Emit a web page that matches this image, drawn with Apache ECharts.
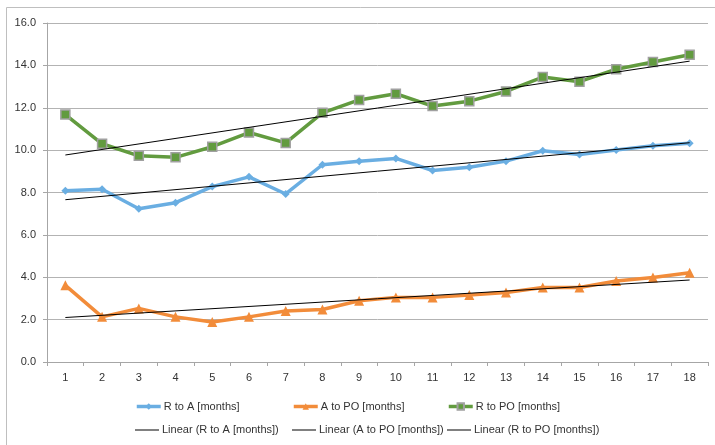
<!DOCTYPE html>
<html>
<head>
<meta charset="utf-8">
<script src="https://cdn.jsdelivr.net/npm/echarts@6/dist/echarts.min.js"></script>
<style>html,body{margin:0;padding:0;background:#fff}#c{width:715px;height:445px}</style>
</head>
<body>
<div id="c"></div>
<script>
const categories = ['1','2','3','4','5','6','7','8','9','10','11','12','13','14','15','16','17','18'];
const rToA = [8.08,8.15,7.23,7.52,8.28,8.74,7.93,9.31,9.48,9.61,9.04,9.19,9.48,9.97,9.79,10.01,10.21,10.32];
const aToPo = [3.62,2.13,2.53,2.13,1.89,2.13,2.41,2.48,2.89,3.05,3.05,3.16,3.28,3.52,3.52,3.82,3.99,4.21];
const rToPo = [11.68,10.3,9.73,9.66,10.16,10.83,10.34,11.76,12.37,12.66,12.08,12.31,12.77,13.45,13.23,13.82,14.16,14.5];
// trendline endpoints (at category 1 and 18)
const trendRToA = [7.66, 10.35];
const trendAToPo = [2.1, 3.87];
const trendRToPo = [9.77, 14.2];
const yTicks = {min: 0, max: 16, interval: 2};

const names = ['R to A [months]','A to PO [months]','R to PO [months]',
  'Linear (R to A [months])','Linear (A to PO [months])','Linear (R to PO [months])'];
const FONT = 'Liberation Sans';
const last = categories.length - 1;
function trend(t){ return [[0, t[0]], [last, t[1]]]; }

const chart = echarts.init(document.getElementById('c'), null, {renderer:'canvas'});
const legendPos = [[135,401],[292,401],[447,401],[135,424.5],[292,424.5],[447,424.5]];
const legends = names.map((n,i)=>{
  const trendItem = i >= 3;
  return {
    data: trendItem ? [{name:n, icon:'rect', itemStyle:{color:'#000'}}] : [{name:n, lineStyle:{width:3.5}}],
    left: legendPos[i][0], top: legendPos[i][1], padding:0,
    itemWidth:24, itemHeight: trendItem ? 1 : 8, itemGap:0, selectedMode:false,
    textStyle:{fontFamily:FONT, fontSize:11, color:'#333', padding:[0,0,0,-2]}
  };
});
chart.setOption({
  animation:false,
  backgroundColor:'#fff',
  graphic:[
    {type:'line', shape:{x1:6.5,y1:7.5,x2:6.5,y2:445}, style:{stroke:'#bfbfbf',lineWidth:1}},
    {type:'line', shape:{x1:6.5,y1:7.5,x2:715,y2:7.5}, style:{stroke:'#bfbfbf',lineWidth:1}}
  ],
  legend: legends,
  grid:{left:47, right:7, top:23, bottom:83, containLabel:false},
  xAxis:{
    type:'category', data:categories, boundaryGap:true,
    axisLine:{lineStyle:{color:'#a6a6a6', width:1}},
    axisTick:{show:true, length:4, interval:0, lineStyle:{color:'#a6a6a6'}},
    axisLabel:{fontFamily:FONT, fontSize:11, color:'#333', margin:10, interval:0},
    splitLine:{show:false}
  },
  yAxis:{
    type:'value', min:yTicks.min, max:yTicks.max, interval:yTicks.interval,
    axisLine:{show:true, lineStyle:{color:'#a6a6a6', width:1}},
    axisTick:{show:true, length:4, lineStyle:{color:'#a6a6a6'}},
    axisLabel:{fontFamily:FONT, fontSize:11, color:'#333', margin:11, formatter:v=>v.toFixed(1)},
    splitLine:{show:true, lineStyle:{color:'#b3b3b3', width:1}}
  },
  series:[
    {name:names[0], type:'line', data:rToA, symbol:'diamond', symbolSize:8,
     lineStyle:{color:'#6aaee2', width:3.5}, itemStyle:{color:'#6aaee2'}, z:3},
    {name:names[1], type:'line', data:aToPo, symbol:'triangle', symbolSize:10,
     lineStyle:{color:'#f28c3a', width:3.5}, itemStyle:{color:'#f28c3a'}, z:3},
    {name:names[2], type:'line', data:rToPo, symbol:'rect', symbolSize:9,
     lineStyle:{color:'#629b3f', width:3.5}, itemStyle:{color:'#629b3f', borderColor:'#a0a0a0', borderWidth:1.5}, z:3},
    {name:names[3], type:'line', data:trend(trendRToA), symbol:'none',
     lineStyle:{color:'#000', width:1}, itemStyle:{color:'#000'}, z:4},
    {name:names[4], type:'line', data:trend(trendAToPo), symbol:'none',
     lineStyle:{color:'#000', width:1}, itemStyle:{color:'#000'}, z:4},
    {name:names[5], type:'line', data:trend(trendRToPo), symbol:'none',
     lineStyle:{color:'#000', width:1}, itemStyle:{color:'#000'}, z:4}
  ]
});
</script>
</body>
</html>
